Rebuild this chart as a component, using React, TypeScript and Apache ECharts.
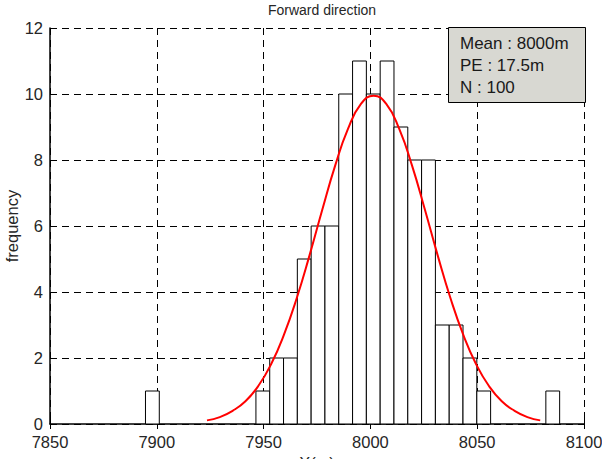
import React, { useEffect, useRef } from "react";
import * as echarts from "echarts";

const titleText = "Forward direction";
const xTicks = [7850, 7900, 7950, 8000, 8050, 8100];
const yTicks = [0, 2, 4, 6, 8, 10, 12];
const histMin = 7894.7;
const histMax = 8088.6;
const counts = [1, 0, 0, 0, 0, 0, 0, 0, 1, 2, 2, 5, 6, 6, 10, 11, 10, 11, 9, 8, 8, 3, 3, 2, 1, 0, 0, 0, 0, 1];
const curveX = [7923.5, 7929.5, 7935.5, 7941.5, 7947.5, 7953.5, 7959.5, 7965.5, 7971.5, 7977.5, 7983.5, 7989.5, 7995.5, 8001.5, 8007.5, 8013.5, 8019.5, 8025.5, 8031.5, 8037.5, 8043.5, 8049.5, 8055.5, 8061.5, 8067.5, 8073.5, 8079.5];
const curveY = [0.11, 0.21, 0.4, 0.69, 1.15, 1.81, 2.7, 3.81, 5.11, 6.5, 7.83, 8.94, 9.69, 9.95, 9.69, 8.94, 7.83, 6.5, 5.11, 3.81, 2.7, 1.81, 1.15, 0.69, 0.4, 0.21, 0.11];
const statLines = ["Mean : 8000m", "PE : 17.5m", "N : 100"];

const FONT = "Liberation Sans, Arial, Helvetica, sans-serif";

export default function App() {
  const ref = useRef<HTMLDivElement>(null);
  useEffect(() => {
    if (!ref.current) return;
    const chart = echarts.init(ref.current, undefined, { renderer: "svg", width: 602, height: 459 });
    const binW = (histMax - histMin) / counts.length;
    const bars = counts
      .map((c, i) => [histMin + i * binW, histMin + (i + 1) * binW, c])
      .filter((d) => d[2] > 0);
    const dash = [7, 5];
    const fmt = (v: number) => String(v);
    chart.setOption({
      animation: false,
      backgroundColor: "#ffffff",
      title: {
        text: titleText,
        left: 317,
        textAlign: "center",
        top: -2,
        textStyle: { fontFamily: FONT, fontSize: 14, fontWeight: "normal", color: "#262626" },
      },
      grid: { left: 50, right: 18, top: 28, bottom: 35, containLabel: false, outerBoundsMode: "none" },
      xAxis: [
        {
          type: "value",
          min: xTicks[0],
          max: xTicks[xTicks.length - 1],
          interval: 50,
          name: "X(m)",
          nameLocation: "middle",
          nameGap: 29,
          nameTextStyle: { fontFamily: FONT, fontSize: 16.5, color: "#262626" },
          axisLine: { show: true, lineStyle: { color: "#000", width: 1.5 } },
          axisTick: { show: true, inside: true, length: 5, lineStyle: { color: "#000" } },
          axisLabel: { fontFamily: FONT, fontSize: 16.5, color: "#262626", margin: 9, formatter: fmt },
          splitLine: { show: true, lineStyle: { color: "#000", type: dash, width: 1 } },
        },
        {
          type: "value",
          position: "top",
          min: xTicks[0],
          max: xTicks[xTicks.length - 1],
          interval: 50,
          axisLine: { show: false },
          axisTick: { show: true, inside: true, length: 5, lineStyle: { color: "#000" } },
          axisLabel: { show: false },
          splitLine: { show: false },
        },
      ],
      yAxis: [
        {
          type: "value",
          min: yTicks[0],
          max: yTicks[yTicks.length - 1],
          interval: 2,
          name: "frequency",
          nameLocation: "middle",
          nameGap: 30,
          nameMoveOverlap: false,
          nameTextStyle: { fontFamily: FONT, fontSize: 16.5, color: "#262626" },
          axisLine: { show: true, lineStyle: { color: "#000", width: 1.5 } },
          axisTick: { show: true, inside: true, length: 5, lineStyle: { color: "#000" } },
          axisLabel: { fontFamily: FONT, fontSize: 16.5, color: "#262626", margin: 7, formatter: fmt },
          splitLine: { show: true, lineStyle: { color: "#000", type: dash, width: 1 } },
        },
        {
          type: "value",
          position: "right",
          min: yTicks[0],
          max: yTicks[yTicks.length - 1],
          interval: 2,
          axisLine: { show: false },
          axisTick: { show: true, inside: true, length: 5, lineStyle: { color: "#000" } },
          axisLabel: { show: false },
          splitLine: { show: false },
        },
      ],
      series: [
        {
          type: "custom",
          xAxisIndex: 0,
          yAxisIndex: 0,
          data: bars,
          renderItem: (params: any, api: any) => {
            const p0 = api.coord([api.value(0), api.value(2)]);
            const p1 = api.coord([api.value(1), 0]);
            return {
              type: "rect",
              shape: { x: p0[0], y: p0[1], width: p1[0] - p0[0], height: p1[1] - p0[1] },
              style: { fill: "#ffffff", stroke: "#000000", lineWidth: 1 },
            };
          },
          z: 3,
        },
        {
          type: "line",
          xAxisIndex: 0,
          yAxisIndex: 0,
          data: curveX.map((x, i) => [x, curveY[i]]),
          smooth: true,
          showSymbol: false,
          lineStyle: { color: "#ff0000", width: 2 },
          z: 4,
        },
      ],
      graphic: [
        {
          type: "rect",
          left: 448,
          top: 27,
          shape: { width: 137, height: 75 },
          style: { fill: "#d8d8d2", stroke: "#000", lineWidth: 1 },
          z: 10,
        },
        ...statLines.map((t, i) => ({
          type: "text",
          left: 460,
          top: 35 + i * 22,
          style: { text: t, fontFamily: FONT, fontSize: 17, fill: "#1a1a1a" },
          z: 11,
        })),
      ],
    });
    return () => chart.dispose();
  }, []);
  return <div ref={ref} style={{ position: "absolute", left: 0, top: 0, width: 602, height: 459 }} />;
}
